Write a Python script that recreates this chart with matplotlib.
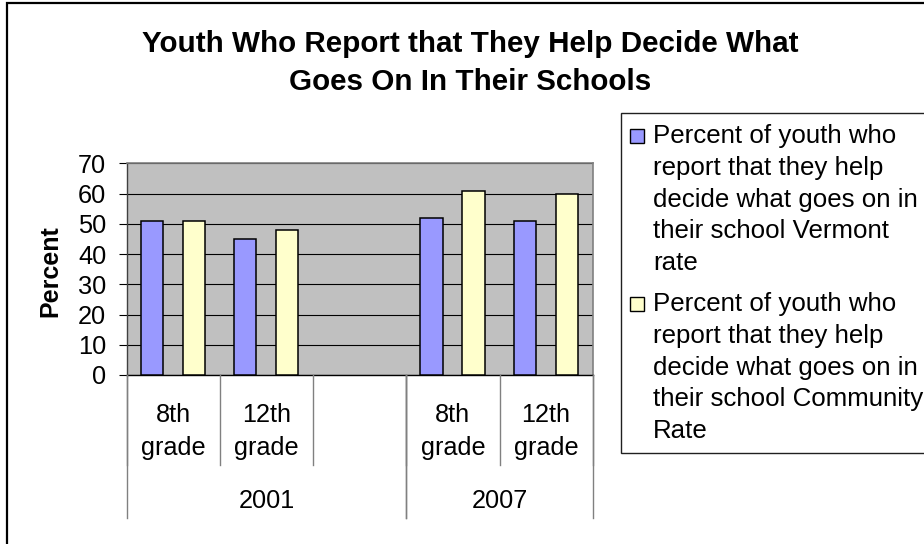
import matplotlib
matplotlib.use("Agg")
import matplotlib.pyplot as plt
import numpy as np
from matplotlib.patches import Rectangle
from matplotlib.lines import Line2D

plt.rcParams['font.family'] = ['Liberation Sans', 'DejaVu Sans']

# ---------------- data ----------------
title_lines = ["Youth Who Report that They Help Decide What", "Goes On In Their Schools"]
grade_labels = ["8th\ngrade", "12th\ngrade", "", "8th\ngrade", "12th\ngrade"]
years = ["2001", "2007"]
year_spans = [(0, 2), (3, 4)]          # category index ranges covered by each year
vermont = [51, 45, np.nan, 52, 51]
community = [51, 48, np.nan, 61, 60]
legend_lines = [
    ["Percent of youth who", "report that they help", "decide what goes on in",
     "their school Vermont", "rate"],
    ["Percent of youth who", "report that they help", "decide what goes on in",
     "their school Community", "Rate"],
]
series_colors = ["#9999FF", "#FFFFCC"]
yticks = [0, 10, 20, 30, 40, 50, 60, 70]
ylabel = "Percent"

# ---------------- layout helpers ----------------
W, H = 924, 544
fig = plt.figure(figsize=(W / 100, H / 100), dpi=100)
def fx(px): return px / W
def fy(py): return 1 - py / H

ax_l, ax_r, ax_t, ax_b = 126.7, 592.7, 163.3, 375.0
ax = fig.add_axes([fx(ax_l), fy(ax_b), fx(ax_r - ax_l), (ax_b - ax_t) / H])
ax.set_facecolor("#C0C0C0")

x = np.arange(len(grade_labels))
bw = 0.24
ax.bar(x - 0.228, vermont, bw, color=series_colors[0], edgecolor="black", linewidth=1.1, zorder=3)
ax.bar(x + 0.222, community, bw, color=series_colors[1], edgecolor="black", linewidth=1.1, zorder=3)

ax.set_xlim(-0.5, len(grade_labels) - 0.5)
ax.set_ylim(0, 70)
ax.set_yticks(yticks)
ax.set_yticklabels([str(t) for t in yticks], fontsize=18.3)
ax.tick_params(axis='y', direction='out', length=5.8, width=0.8, pad=9, colors='black')
ax.set_xticks([])
ax.yaxis.grid(True, color='black', linewidth=0.8, zorder=1)
ax.set_axisbelow(True)
for s in ['top', 'right']:
    ax.spines[s].set_color('#808080')
    ax.spines[s].set_linewidth(1.2)
ax.spines['left'].set_color('#404040')
ax.spines['left'].set_linewidth(1.0)
ax.spines['bottom'].set_color('black')
ax.spines['bottom'].set_linewidth(1.0)

fig.text(fx(50), fy(271.5), ylabel, rotation=90, fontsize=18, fontweight='bold',
         ha='center', va='center')

# ---------------- multi-level category axis ----------------
px_per_unit = (ax_r - ax_l) / len(grade_labels)
def cat_px(v): return ax_l + (v + 0.5) * px_per_unit
inner_bottom, outer_bottom = 465, 518
sep_color = '#808080'
# inner separators
for i in range(len(grade_labels) + 1):
    xp = cat_px(i - 0.5)
    fig.add_artist(Line2D([fx(xp), fx(xp)], [fy(ax_b), fy(inner_bottom)],
                          color=sep_color, linewidth=1.0))
# outer separators
for (a, b) in year_spans:
    for xp in (cat_px(a - 0.5), cat_px(b + 0.5)):
        fig.add_artist(Line2D([fx(xp), fx(xp)], [fy(ax_b), fy(outer_bottom)],
                              color=sep_color, linewidth=1.0))
for i, lab in enumerate(grade_labels):
    if not lab:
        continue
    for j, line in enumerate(lab.split("\n")):
        fig.text(fx(cat_px(i)), fy(421.7 + 33 * j), line, fontsize=18.2,
                 ha='center', va='baseline')
for yr, (a, b) in zip(years, year_spans):
    fig.text(fx((cat_px(a - 0.5) + cat_px(b + 0.5)) / 2), fy(508), yr, fontsize=18.2,
             ha='center', va='baseline')

# ---------------- title ----------------
for j, line in enumerate(title_lines):
    fig.text(fx(470), fy(51.5 + 38.5 * j), line, fontsize=21.3, fontweight='bold',
             ha='center', va='baseline')

# ---------------- legend ----------------
fig.add_artist(Rectangle((fx(620.7), fy(452.7)), fx(400), (452.7 - 113.3) / H,
                         transform=fig.transFigure, facecolor='white',
                         edgecolor='#202020', linewidth=1.0, zorder=0))
entry_base = [143, 311]
for k, lines in enumerate(legend_lines):
    b0 = entry_base[k]
    fig.add_artist(Rectangle((fx(630), fy(b0)), fx(14), 14 / H, transform=fig.transFigure,
                             facecolor=series_colors[k], edgecolor='black', linewidth=1.0))
    for j, line in enumerate(lines):
        fig.text(fx(653), fy(b0 + 31.8 * j), line, fontsize=18.6, ha='left', va='baseline')

# ---------------- outer border ----------------
fig.add_artist(Rectangle((fx(7), -0.2), 1.2, fy(3) + 0.2, transform=fig.transFigure,
                         facecolor='none', edgecolor='black', linewidth=1.6))

fig.savefig("out.png", dpi=100)
